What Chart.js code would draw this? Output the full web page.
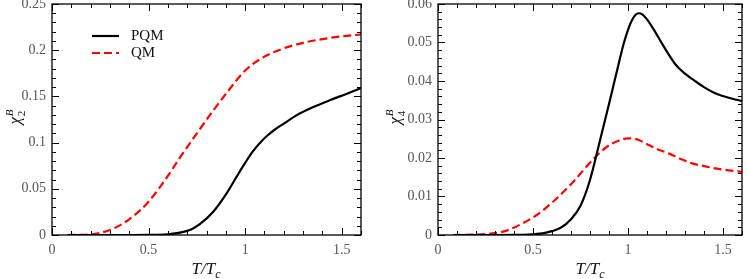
<!DOCTYPE html>
<html>
<head>
<meta charset="utf-8">
<script src="https://cdn.jsdelivr.net/npm/chart.js@4/dist/chart.umd.min.js"></script>
<style>
  html,body{margin:0;padding:0;background:#fff;}
  #wrap{position:relative;width:747px;height:279px;overflow:hidden;font-family:"Liberation Serif","DejaVu Serif",serif;}
  .box{position:absolute;top:0;height:279px;}
  .xt{position:absolute;font-style:italic;font-size:17px;line-height:17px;color:#111;white-space:nowrap;transform:translateX(-50%);}
  .xt sub{font-size:12px;vertical-align:-4px;line-height:0;}
  .yt{position:absolute;color:#111;white-space:nowrap;transform:translate(-50%,-50%) rotate(-90deg);display:flex;align-items:center;}
  .yt .chi{font-style:italic;font-size:17px;line-height:17px;}
  .yt .ss{display:flex;flex-direction:column;font-size:11px;line-height:11px;margin-left:1px;}
  .yt .ss .sp{font-style:italic;margin-top:-6px;}
  .yt .ss .sb{margin-top:1px;margin-bottom:-8px;}
  .leg{position:absolute;left:92px;top:27px;font-size:15px;color:#111;}
  .leg div{height:17px;display:flex;align-items:center;}
  .leg svg{margin-right:12px;}
</style>
</head>
<body>
<div id="wrap">
  <div class="box" style="left:0;width:372px;"><canvas id="c1" width="372" height="279"></canvas></div>
  <div class="box" style="left:380px;width:367px;"><canvas id="c2" width="367" height="279"></canvas></div>
  <div class="xt" style="left:206px;top:260px;">T/T<sub>c</sub></div>
  <div class="xt" style="left:590px;top:260px;">T/T<sub>c</sub></div>
  <div class="yt" style="left:14px;top:117px;"><span class="chi">χ</span><span class="ss"><span class="sp">B</span><span class="sb">2</span></span></div>
  <div class="yt" style="left:394px;top:117px;"><span class="chi">χ</span><span class="ss"><span class="sp">B</span><span class="sb">4</span></span></div>
  <div class="leg">
    <div><svg width="27" height="4"><line x1="0" y1="2" x2="27" y2="2" stroke="#000" stroke-width="2.2"/></svg>PQM</div>
    <div><svg width="27" height="4"><line x1="0" y1="2" x2="27" y2="2" stroke="#f00" stroke-width="2.2" stroke-dasharray="8,4"/></svg>QM</div>
  </div>
</div>
<script>
// ---- data ----
const seriesNames = ["PQM", "QM"];
const xTickValues = [0, 0.5, 1, 1.5];
const xTickLabels = ["0", "0.5", "1", "1.5"];
const chi2TickValues = [0, 0.05, 0.1, 0.15, 0.2, 0.25];
const chi2TickLabels = ["0", "0.05", "0.1", "0.15", "0.2", "0.25"];
const chi4TickValues = [0, 0.01, 0.02, 0.03, 0.04, 0.05, 0.06];
const chi4TickLabels = ["0", "0.01", "0.02", "0.03", "0.04", "0.05", "0.06"];

const chi2_PQM_T = [0.08, 0.3, 0.5, 0.6, 0.663, 0.72, 0.767, 0.836, 0.905, 0.957, 1.0, 1.04, 1.08, 1.12, 1.16, 1.2, 1.27, 1.35, 1.44, 1.527, 1.6];
const chi2_PQM   = [0, 0, 0.0002, 0.0008, 0.0025, 0.006, 0.012, 0.0254, 0.0453, 0.0634, 0.078, 0.0905, 0.1005, 0.1085, 0.115, 0.1205, 0.130, 0.1382, 0.146, 0.1529, 0.159];
const chi2_QM_T  = [0.08, 0.2, 0.3, 0.4, 0.5, 0.6, 0.663, 0.75, 0.836, 0.92, 1.0, 1.1, 1.2, 1.3, 1.4, 1.5, 1.6];
const chi2_QM    = [0, 0.0007, 0.0055, 0.017, 0.036, 0.064, 0.084, 0.110, 0.135, 0.158, 0.178, 0.193, 0.202, 0.208, 0.212, 0.215, 0.217];

const chi4_PQM_T = [0.08, 0.3, 0.4, 0.5, 0.55, 0.6, 0.65, 0.7, 0.75, 0.8, 0.85, 0.9, 0.95, 0.975, 1.0, 1.02, 1.04, 1.057, 1.075, 1.1, 1.13, 1.17, 1.2, 1.25, 1.3, 1.35, 1.4, 1.45, 1.5, 1.55, 1.6];
const chi4_PQM   = [0, 0, 0.00002, 0.0002, 0.0004, 0.001, 0.002, 0.0041, 0.0076, 0.0143, 0.024, 0.034, 0.0443, 0.0493, 0.0533, 0.0557, 0.0572, 0.0576, 0.0573, 0.056, 0.0538, 0.0505, 0.048, 0.0443, 0.0419, 0.0401, 0.0384, 0.037, 0.0361, 0.0354, 0.0348];
const chi4_QM_T  = [0.08, 0.2, 0.264, 0.352, 0.44, 0.528, 0.616, 0.704, 0.827, 0.9, 0.95, 1.0, 1.017, 1.06, 1.1, 1.15, 1.214, 1.28, 1.337, 1.4, 1.46, 1.53, 1.6];
const chi4_QM    = [0, 0.0001, 0.0003, 0.001, 0.0029, 0.0055, 0.0091, 0.0134, 0.0202, 0.0233, 0.0245, 0.0251, 0.0251, 0.0246, 0.0236, 0.0224, 0.0212, 0.0197, 0.0186, 0.0179, 0.0173, 0.0168, 0.0164];

function pts(xs, ys){ return xs.map((x,i)=>({x:x, y:ys[i]})); }

const framePlugin = {
  id: 'frame',
  afterDraw(chart, args, opts) {
    const {ctx, chartArea: a, scales: {x, y}} = chart;
    ctx.save();
    ctx.strokeStyle = '#000';
    ctx.lineWidth = 1;
    const seg = (x1,y1,x2,y2)=>{ctx.beginPath();ctx.moveTo(x1,y1);ctx.lineTo(x2,y2);ctx.stroke();};
    const nx = Math.round((x.max - x.min)/opts.xMinor);
    for (let i=0;i<=nx;i++){
      const v = x.min + i*opts.xMinor;
      const major = Math.abs(v/opts.xMajor - Math.round(v/opts.xMajor)) < 1e-6;
      const L = major ? 7 : 4;
      const px = Math.round(x.getPixelForValue(v)) + 0.5;
      seg(px, a.bottom, px, a.bottom - L);
      seg(px, a.top, px, a.top + L);
    }
    const ny = Math.round((y.max - y.min)/opts.yMinor);
    for (let i=0;i<=ny;i++){
      const v = y.min + i*opts.yMinor;
      const major = Math.abs(v/opts.yMajor - Math.round(v/opts.yMajor)) < 1e-6;
      const L = major ? 7 : 4;
      const py = Math.round(y.getPixelForValue(v)) + 0.5;
      seg(a.left, py, a.left + L, py);
      seg(a.right, py, a.right - L, py);
    }
    ctx.lineWidth = 1.3;
    ctx.strokeRect(a.left, a.top, a.right - a.left, a.bottom - a.top);
    ctx.restore();
  }
};

function labelFor(values, labels) {
  return (v) => { const i = values.findIndex(t => Math.abs(t - v) < 1e-9); return i >= 0 ? labels[i] : ''; };
}

function makeChart(id, pqmT, pqm, qmT, qm, yMax, yStep, yValues, yLabels, yMinor, leftW, padRight) {
  return new Chart(document.getElementById(id), {
    type: 'line',
    data: {
      datasets: [
        {label: seriesNames[0], data: pts(pqmT, pqm), borderColor: '#000', borderWidth: 2.2,
         pointRadius: 0, fill: false, cubicInterpolationMode: 'monotone'},
        {label: seriesNames[1], data: pts(qmT, qm), borderColor: '#f00', borderWidth: 2.2,
         borderDash: [8, 4], pointRadius: 0, fill: false, cubicInterpolationMode: 'monotone'}
      ]
    },
    options: {
      responsive: false,
      animation: false,
      layout: {padding: {top: 4, right: padRight, left: 0, bottom: 0}},
      plugins: {legend: {display: false}, tooltip: {enabled: false},
                frame: {xMinor: 0.1, xMajor: 0.5, yMinor: yMinor, yMajor: yStep}},
      scales: {
        x: {
          type: 'linear', min: 0, max: 1.6,
          grid: {display: false, drawTicks: false, tickLength: 0}, border: {display: false},
          afterBuildTicks: (s) => { s.ticks = xTickValues.map(v => ({value: v})); },
          ticks: {padding: 7, color: '#555', maxRotation: 0, autoSkip: false,
                  font: {family: 'Liberation Serif', size: 14},
                  callback: labelFor(xTickValues, xTickLabels)},
          afterFit: (s) => { s.height = 44; s.paddingLeft = 0; s.paddingRight = 0; }
        },
        y: {
          type: 'linear', min: 0, max: yMax,
          grid: {display: false, drawTicks: false, tickLength: 0}, border: {display: false},
          afterBuildTicks: (s) => { s.ticks = yValues.map(v => ({value: v})); },
          ticks: {padding: 6, color: '#555', autoSkip: false,
                  font: {family: 'Liberation Serif', size: 14},
                  callback: labelFor(yValues, yLabels)},
          afterFit: (s) => { s.width = leftW; s.paddingTop = 0; s.paddingBottom = 0; }
        }
      }
    },
    plugins: [framePlugin]
  });
}

makeChart('c1', chi2_PQM_T, chi2_PQM, chi2_QM_T, chi2_QM, 0.25, 0.05, chi2TickValues, chi2TickLabels, 0.01, 52, 11);
makeChart('c2', chi4_PQM_T, chi4_PQM, chi4_QM_T, chi4_QM, 0.06, 0.01, chi4TickValues, chi4TickLabels, 0.002, 58, 5);
</script>
</body>
</html>
